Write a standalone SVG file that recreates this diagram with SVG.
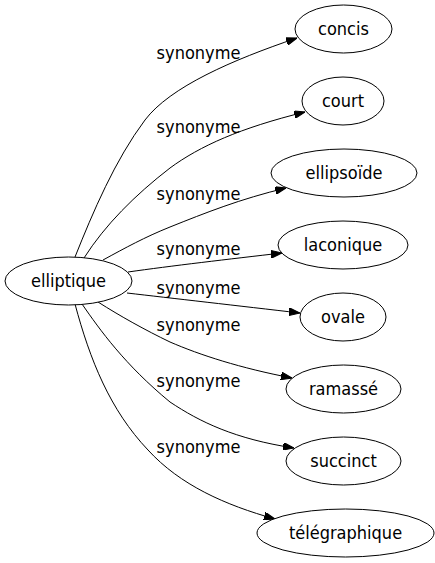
<svg xmlns="http://www.w3.org/2000/svg" width="435" height="563" viewBox="0 0 435 563">
<style>
  .node ellipse { fill: #ffffff; stroke: #000000; stroke-width: 1; }
  text { font-family: "DejaVu Sans Condensed", "DejaVu Sans", sans-serif; font-stretch: condensed; font-size: 18px; fill: #000000; text-anchor: middle; }
  .edges path { fill: none; stroke: #000000; stroke-width: 1; marker-end: url(#arrow); }
</style>
<defs>
  <marker id="arrow" viewBox="0 0 10 7" refX="10" refY="3.5" markerWidth="11" markerHeight="7.7" markerUnits="userSpaceOnUse" orient="auto">
    <polygon points="0,0 10,3.5 0,7" fill="#000000" stroke="#000000" stroke-width="1"/>
  </marker>
</defs>
<rect width="435" height="563" fill="#ffffff"/>
<g id="edges" class="edges">
  <path d="M75,257 C93,212 115,160 145,120 C170,87 232,60 297,38"/>
  <path d="M84,258 C105,225 135,195 170,168 C200,146 240,128 305,112"/>
  <path d="M103,260 C125,248 145,237 170,227 C205,213 240,199 286,188"/>
  <path d="M128,272 C170,266 230,259 282,253"/>
  <path d="M127,293 C170,298 240,306 300,313"/>
  <path d="M98,302 C120,316 145,330 170,342 C200,355 240,368 292,378"/>
  <path d="M82,304 C100,330 125,365 170,402 C200,422 235,439 294,448"/>
  <path d="M75,304 C90,360 110,410 148,450 C180,485 225,505 275,519"/>
  <text x="198.5" y="59">synonyme</text>
  <text x="198.5" y="133">synonyme</text>
  <text x="198.5" y="200">synonyme</text>
  <text x="198.5" y="255">synonyme</text>
  <text x="198.5" y="294">synonyme</text>
  <text x="198.5" y="331">synonyme</text>
  <text x="198.5" y="387">synonyme</text>
  <text x="198.5" y="453">synonyme</text>
</g>
<g id="elliptique" class="node"><ellipse cx="68.5" cy="281" rx="63.5" ry="24"/><text x="68.5" y="287">elliptique</text></g>
<g id="concis" class="node"><ellipse cx="343.5" cy="29" rx="48.5" ry="24"/><text x="343.5" y="35">concis</text></g>
<g id="court" class="node"><ellipse cx="343" cy="101" rx="41" ry="24"/><text x="343" y="107">court</text></g>
<g id="ellipsoide" class="node"><ellipse cx="344" cy="173" rx="73" ry="24"/><text x="344" y="179">ellipsoïde</text></g>
<g id="laconique" class="node"><ellipse cx="343" cy="245" rx="65" ry="24"/><text x="343" y="251">laconique</text></g>
<g id="ovale" class="node"><ellipse cx="343" cy="317" rx="43" ry="24"/><text x="343" y="323">ovale</text></g>
<g id="ramasse" class="node"><ellipse cx="343.5" cy="389" rx="57.5" ry="24"/><text x="343.5" y="395">ramassé</text></g>
<g id="succinct" class="node"><ellipse cx="343.5" cy="461" rx="57.5" ry="24"/><text x="343.5" y="467">succinct</text></g>
<g id="telegraphique" class="node"><ellipse cx="345.5" cy="533" rx="88.5" ry="24"/><text x="345.5" y="539">télégraphique</text></g>
</svg>
